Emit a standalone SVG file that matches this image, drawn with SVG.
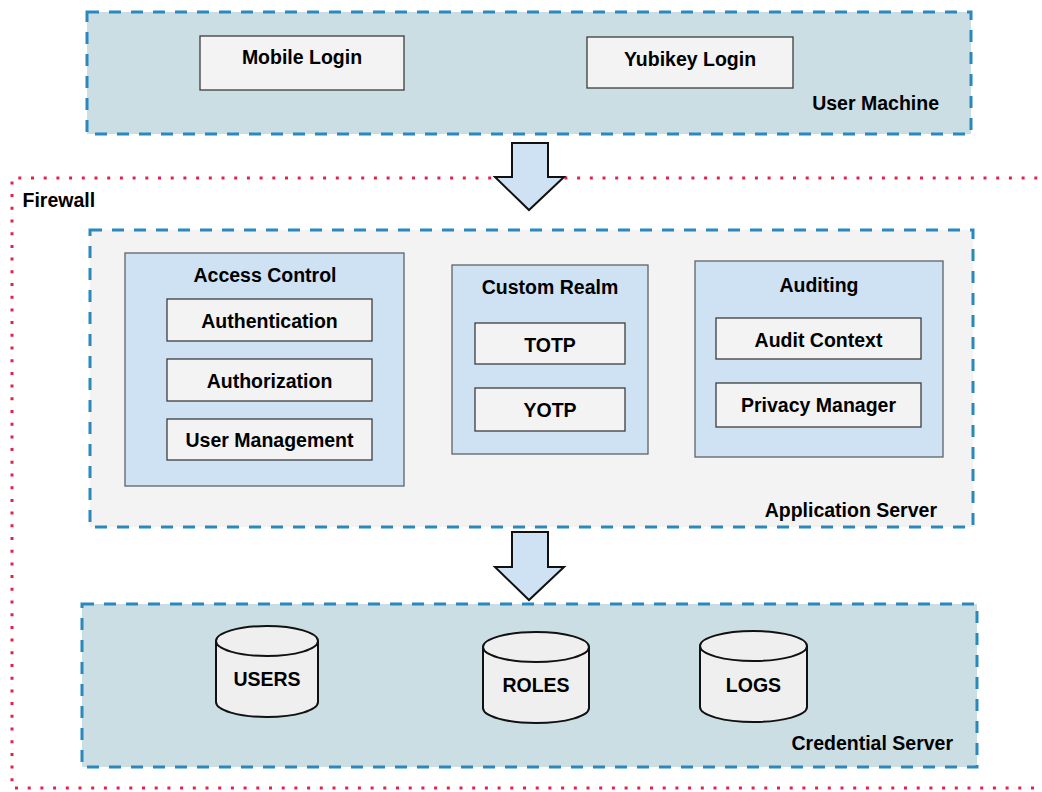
<svg xmlns="http://www.w3.org/2000/svg" width="1042" height="792" viewBox="0 0 1042 792">
  <style>
    text { font-family: "Liberation Sans", Arial, sans-serif; font-weight: bold; font-size: 19.5px; fill: #000; }
    .mid { text-anchor: middle; }
    .end { text-anchor: end; }
    .zone { stroke: #2b88bd; stroke-width: 3; stroke-dasharray: 12 10; }
    .machine { fill: #cbdee3; }
    .server { fill: #f3f3f3; }
    .module { fill: #cfe2f3; stroke: #5f6368; stroke-width: 1.3; }
    .item { fill: #f3f3f3; stroke: #3c3c3c; stroke-width: 1.3; }
    .db { fill: #efefef; stroke: #111; stroke-width: 2; }
    .flow { fill: #cfe2f3; stroke: #111; stroke-width: 2; stroke-linejoin: miter; }
    .firewall { fill: none; stroke: #e0224f; stroke-width: 3; stroke-dasharray: 3 9.7; }
  </style>

  <rect width="1042" height="792" fill="#ffffff"/>

  <!-- firewall boundary, open on the right -->
  <g id="firewall">
    <path class="firewall" d="M1050,178 H12 V788 H1050"/>
    <text x="22.5" y="207">Firewall</text>
  </g>

  <!-- client side -->
  <g id="user-machine">
    <rect class="zone machine" x="87" y="12" width="884" height="122"/>
    <text class="end" x="939" y="110">User Machine</text>
  </g>
  <g id="mobile-login">
    <rect class="item" x="200" y="36" width="204" height="54"/>
    <text class="mid" x="302" y="64">Mobile Login</text>
  </g>
  <g id="yubikey-login">
    <rect class="item" x="587" y="37" width="206" height="51"/>
    <text class="mid" x="690" y="66">Yubikey Login</text>
  </g>

  <!-- application server -->
  <g id="application-server">
    <rect class="zone server" x="90" y="230" width="883" height="297"/>
    <text class="end" x="937" y="517">Application Server</text>
  </g>

  <g id="access-control">
    <rect class="module" x="125" y="253" width="279" height="233"/>
    <text class="mid" x="265" y="282">Access Control</text>
  </g>
  <g id="authentication">
    <rect class="item" x="167" y="299" width="205" height="42"/>
    <text class="mid" x="269.5" y="328">Authentication</text>
  </g>
  <g id="authorization">
    <rect class="item" x="167" y="359" width="205" height="42"/>
    <text class="mid" x="269.5" y="388">Authorization</text>
  </g>
  <g id="user-management">
    <rect class="item" x="167" y="419" width="205" height="41"/>
    <text class="mid" x="269.5" y="447">User Management</text>
  </g>

  <g id="custom-realm">
    <rect class="module" x="452" y="265" width="196" height="189"/>
    <text class="mid" x="550" y="294">Custom Realm</text>
  </g>
  <g id="totp">
    <rect class="item" x="475" y="323" width="150" height="41"/>
    <text class="mid" x="550" y="352">TOTP</text>
  </g>
  <g id="yotp">
    <rect class="item" x="475" y="388" width="150" height="43"/>
    <text class="mid" x="550" y="417">YOTP</text>
  </g>

  <g id="auditing">
    <rect class="module" x="695" y="261" width="248" height="196"/>
    <text class="mid" x="819" y="292">Auditing</text>
  </g>
  <g id="audit-context">
    <rect class="item" x="716" y="318" width="205" height="41"/>
    <text class="mid" x="818.5" y="347">Audit Context</text>
  </g>
  <g id="privacy-manager">
    <rect class="item" x="716" y="383" width="205" height="44"/>
    <text class="mid" x="818.5" y="412">Privacy Manager</text>
  </g>

  <!-- credential store -->
  <g id="credential-server">
    <rect class="zone machine" x="82" y="604" width="895" height="163"/>
    <text class="end" x="953" y="750">Credential Server</text>
  </g>
  <g id="users">
    <path class="db" d="M216,641 A51,15 0 0 1 318,641 V702 A51,15 0 0 1 216,702 Z"/>
    <path class="db" fill="none" d="M216,641 A51,15 0 0 0 318,641"/>
    <text class="mid" x="267" y="686">USERS</text>
  </g>
  <g id="roles">
    <path class="db" d="M483,647 A53,15 0 0 1 589,647 V708 A53,15 0 0 1 483,708 Z"/>
    <path class="db" fill="none" d="M483,647 A53,15 0 0 0 589,647"/>
    <text class="mid" x="536" y="692">ROLES</text>
  </g>
  <g id="logs">
    <path class="db" d="M700,646 A53.5,15 0 0 1 807,646 V707 A53.5,15 0 0 1 700,707 Z"/>
    <path class="db" fill="none" d="M700,646 A53.5,15 0 0 0 807,646"/>
    <text class="mid" x="753.5" y="692">LOGS</text>
  </g>

  <!-- block arrows between tiers -->
  <g id="connectors">
    <polygon class="flow" points="512,143 548,143 548,177 564,177 529,210 495,177 512,177"/>
    <polygon class="flow" points="512,532 548,532 548,567 564,567 529,600 495,567 512,567"/>
  </g>
</svg>
